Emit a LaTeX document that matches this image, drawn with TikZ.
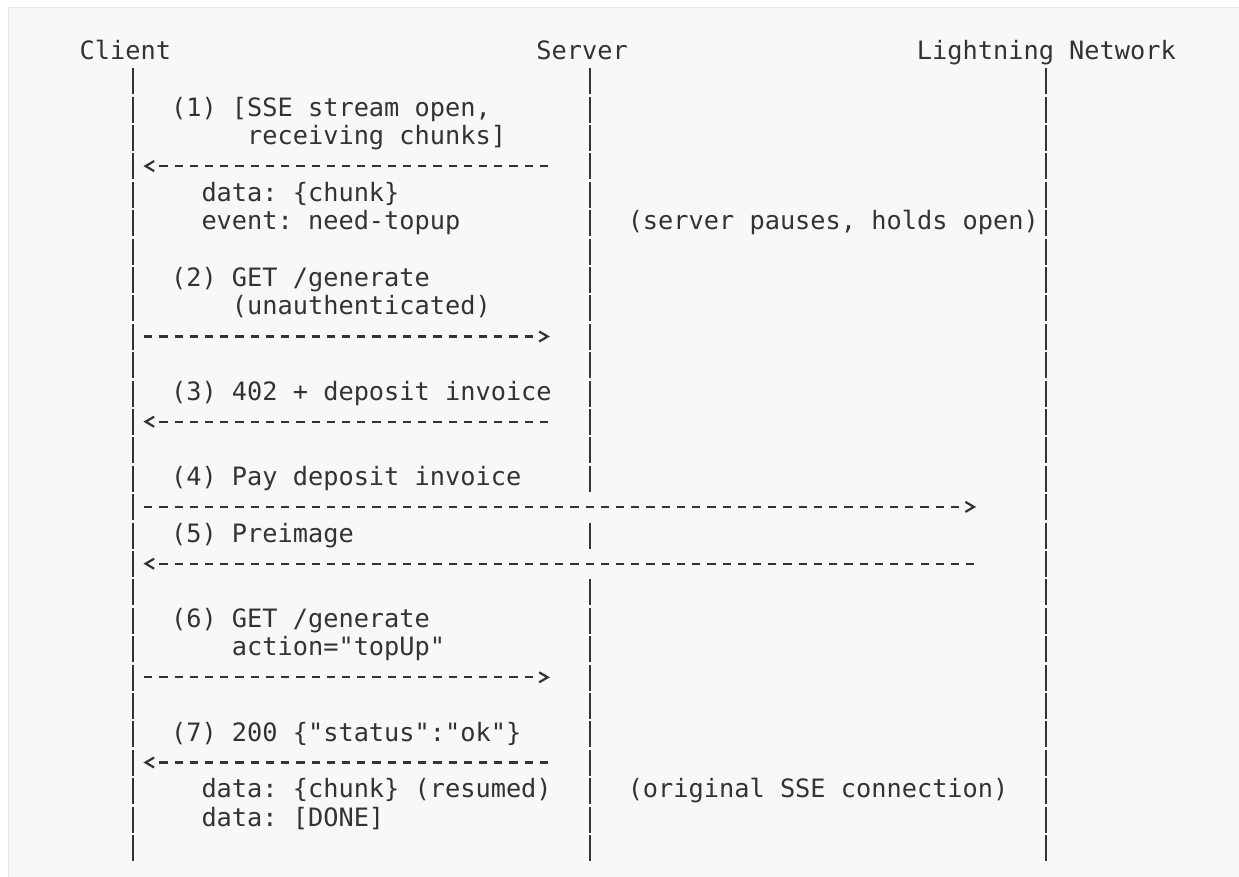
\documentclass[tikz,border=0pt]{standalone}
\usepackage{fontspec}
\setmonofont{DejaVu Sans Mono}
\usetikzlibrary{arrows.meta}

\definecolor{ink}{HTML}{333333}
\definecolor{paper}{HTML}{F8F8F8}
\definecolor{rim}{HTML}{E6E6E6}

% open chevron tip, the line stops short of it
\pgfdeclarearrow{
  name = Chevron,
  parameters = {\the\pgfarrowlength,\the\pgfarrowwidth},
  setup code = {
    \pgfarrowssettipend{0pt}
    \pgfarrowssetbackend{-\pgfarrowlength}
    \pgfarrowssetlineend{-1.4\pgfarrowlength}
    \pgfarrowssavethe\pgfarrowlength
    \pgfarrowssavethe\pgfarrowwidth
  },
  drawing code = {
    \pgfsetdash{}{0pt}
    \pgfsetmiterjoin
    \pgfsetbuttcap
    \pgfpathmoveto{\pgfqpoint{-\pgfarrowlength}{.5\pgfarrowwidth}}
    \pgfpathlineto{\pgfqpoint{0pt}{0pt}}
    \pgfpathlineto{\pgfqpoint{-\pgfarrowlength}{-.5\pgfarrowwidth}}
    \pgfusepathqstroke
  },
  defaults = {length=8.5pt, width=10pt}
}

\tikzset{
  lbl/.style={anchor=base west, inner sep=0pt, outer sep=0pt, text=ink,
    font=\ttfamily\fontsize{25.29pt}{28.4pt}\selectfont\frenchspacing},
  lifeline/.style={draw=ink, line width=2.2pt, dash pattern=on 26pt off 2.4pt},
  msg/.style={draw=ink, line width=2.2pt, dash pattern=on 8.2pt off 7.023pt, -Chevron},
}

\begin{document}
\begin{tikzpicture}[x=15.223pt, y=-28.4pt]
    \clip (-64.5pt,59.4pt) rectangle ++(1239pt,-877pt);
    % code block background
    \draw[draw=rim, fill=paper, line width=1pt] (-56pt,51.9pt) rectangle (1200pt,-900pt);
    % Participants
    \node[lbl] (client) at (1,0) {Client};
    \node[lbl] (server) at (31,0) {Server};
    \node[lbl] (lnet) at (56,0) {Lightning Network};
    % Lifelines
    \coordinate (clientTop) at (4.5,0.313);
    \coordinate (clientEnd) at (4.5,28.229);
    \coordinate (lnetTop) at (64.5,0.313);
    \coordinate (lnetEnd) at (64.5,28.229);
    \coordinate (serverTop) at (34.5,0.313);
    \coordinate (serverGapA) at (34.5,15.229);
    \coordinate (serverMidTop) at (34.5,16.313);
    \coordinate (serverMidEnd) at (34.5,17.229);
    \coordinate (serverGapB) at (34.5,18.313);
    \coordinate (serverEnd) at (34.5,28.229);
    \draw[lifeline] (clientTop) -- (clientEnd);
    \draw[lifeline] (lnetTop) -- (lnetEnd);
    \draw[lifeline] (serverTop) -- (serverGapA);
    \draw[lifeline] (serverMidTop) -- (serverMidEnd);
    \draw[lifeline] (serverGapB) -- (serverEnd);
    % Messages: number / row / from / to
    \foreach \n/\r/\a/\b in {1/4/31.7686/5.33, 2/10/5.2299/31.74, 3/13/31.7686/5.33,
        4/16/5.2299/59.74, 5/18/59.7686/5.33, 6/22/5.2299/31.74, 7/25/31.7686/5.33} {
      \coordinate (m\n from) at (\a,\r-0.243);
      \coordinate (m\n to) at (\b,\r-0.243);
      \draw[msg] (m\n from) -- (m\n to);
    }
    % Message labels
    \node[lbl] (step1a) at (7,2) {(1) [SSE stream open,};
    \node[lbl] (step1b) at (12,3) {receiving chunks]};
    \node[lbl] (chunk) at (9,5) {data: \{chunk\}};
    \node[lbl] (topup) at (9,6) {event: need-topup};
    \node[lbl] (pause) at (37,6) {(server pauses, holds open)};
    \node[lbl] (step2a) at (7,8) {(2) GET /generate};
    \node[lbl] (step2b) at (11,9) {(unauthenticated)};
    \node[lbl] (step3) at (7,12) {(3) 402 + deposit invoice};
    \node[lbl] (step4) at (7,15) {(4) Pay deposit invoice};
    \node[lbl] (step5) at (7,17) {(5) Preimage};
    \node[lbl] (step6a) at (7,20) {(6) GET /generate};
    \node[lbl] (step6b) at (11,21) {action="topUp"};
    \node[lbl] (step7) at (7,24) {(7) 200 \{"status":"ok"\}};
    \node[lbl] (resumed) at (9,26) {data: \{chunk\} (resumed)};
    \node[lbl] (orig) at (37,26) {(original SSE connection)};
    \node[lbl] (done) at (9,27) {data: [DONE]};
\end{tikzpicture}
\end{document}
